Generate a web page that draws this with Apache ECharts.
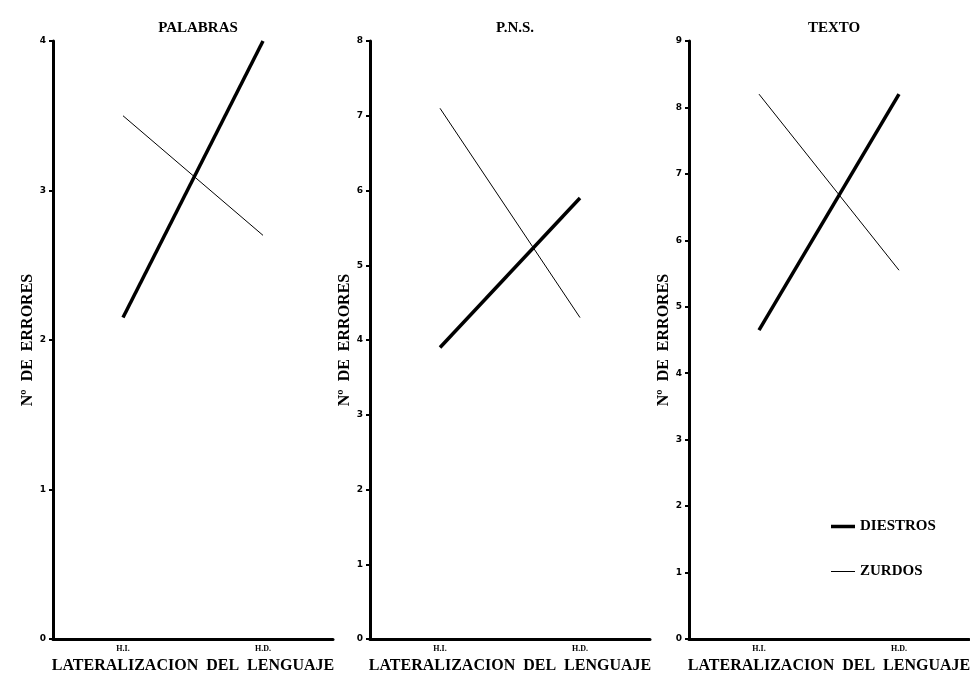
<!DOCTYPE html>
<html>
<head>
<meta charset="utf-8">
<script src="https://cdn.jsdelivr.net/npm/echarts@6/dist/echarts.min.js"></script>
<style>html,body{margin:0;padding:0;background:#fff;}#c{width:970px;height:681px;}</style>
</head>
<body>
<div id="c"></div>
<script>
const categories = ['H.I.', 'H.D.'];
const panelTitles = ['PALABRAS', 'P.N.S.', 'TEXTO'];
const yMax = [4, 8, 9];
const diestros = [[2.15, 4.0], [3.9, 5.9], [4.65, 8.2]];
const zurdos = [[3.5, 2.7], [7.1, 4.3], [8.2, 5.55]];
const seriesNames = ['DIESTROS', 'ZURDOS'];
const xName = 'LATERALIZACION  DEL  LENGUAJE';
const yName = 'Nº  DE  ERRORES';

const FONT = '"Liberation Serif", "DejaVu Serif", serif';
const lefts = [53, 370, 689];
const W = 280;
const widths = [3.5, 1];
const legendIcons = [
  'path://M0,0L0.01,0L0.01,0.01L0,0.01ZM0,5.25L24,5.25L24,8.75L0,8.75ZM23.99,13.99L24,13.99L24,14L23.99,14Z',
  'path://M0,0L0.01,0L0.01,0.01L0,0.01ZM0,6.5L24,6.5L24,7.5L0,7.5ZM23.99,13.99L24,13.99L24,14L23.99,14Z'
];

const chart = echarts.init(document.getElementById('c'));
const grids = [], xAxes = [], yAxes = [], series = [], titles = [];
lefts.forEach((l, i) => {
  grids.push({left: l, top: 41, width: W, height: 598, outerBoundsMode: 'none', containLabel: false});
  titles.push({text: panelTitles[i], left: l + W / 2, top: 16, textAlign: 'center',
    textStyle: {fontFamily: FONT, fontWeight: 'bold', fontSize: 15, color: '#000'}});
  xAxes.push({
    type: 'category', gridIndex: i, data: categories, boundaryGap: true,
    axisLine: {lineStyle: {color: '#000', width: 3}},
    axisTick: {alignWithLabel: true, length: 4, lineStyle: {color: '#000', width: 2}},
    axisLabel: {fontFamily: FONT, fontWeight: 'bold', fontSize: 8, color: '#000', margin: 6},
    name: xName, nameLocation: 'middle', nameGap: 18,
    nameTextStyle: {fontFamily: FONT, fontWeight: 'bold', fontSize: 16, color: '#000'}
  });
  yAxes.push({
    type: 'value', gridIndex: i, min: 0, max: yMax[i], interval: 1,
    splitLine: {show: false},
    axisLine: {show: true, lineStyle: {color: '#000', width: 3}},
    axisTick: {show: true, length: 4, lineStyle: {color: '#000', width: 2}},
    axisLabel: {fontFamily: '"DejaVu Sans", sans-serif', fontWeight: 'bold', fontSize: 9, color: '#000', margin: 7},
    name: yName, nameLocation: 'middle', nameGap: 9, nameRotate: 90,
    nameTextStyle: {fontFamily: FONT, fontWeight: 'bold', fontSize: 16, color: '#000'}
  });
  seriesNames.forEach((n, k) => {
    series.push({name: n, type: 'line', xAxisIndex: i, yAxisIndex: i,
      data: k === 0 ? diestros[i] : zurdos[i], symbol: 'none',
      lineStyle: {color: '#000', width: widths[k]}, itemStyle: {color: '#000'}});
  });
});

chart.setOption({
  animation: false,
  backgroundColor: '#fff',
  title: titles,
  grid: grids,
  xAxis: xAxes,
  yAxis: yAxes,
  legend: {
    data: seriesNames.map((n, k) => ({name: n, icon: legendIcons[k],
      itemStyle: {color: '#000', borderWidth: 0}, lineStyle: {width: 0, opacity: 0}})),
    orient: 'vertical', left: 826, top: 514, itemGap: 30,
    itemWidth: 24, itemHeight: 14,
    textStyle: {fontFamily: FONT, fontWeight: 'bold', fontSize: 15, color: '#000'}
  },
  series: series
});
</script>
</body>
</html>
